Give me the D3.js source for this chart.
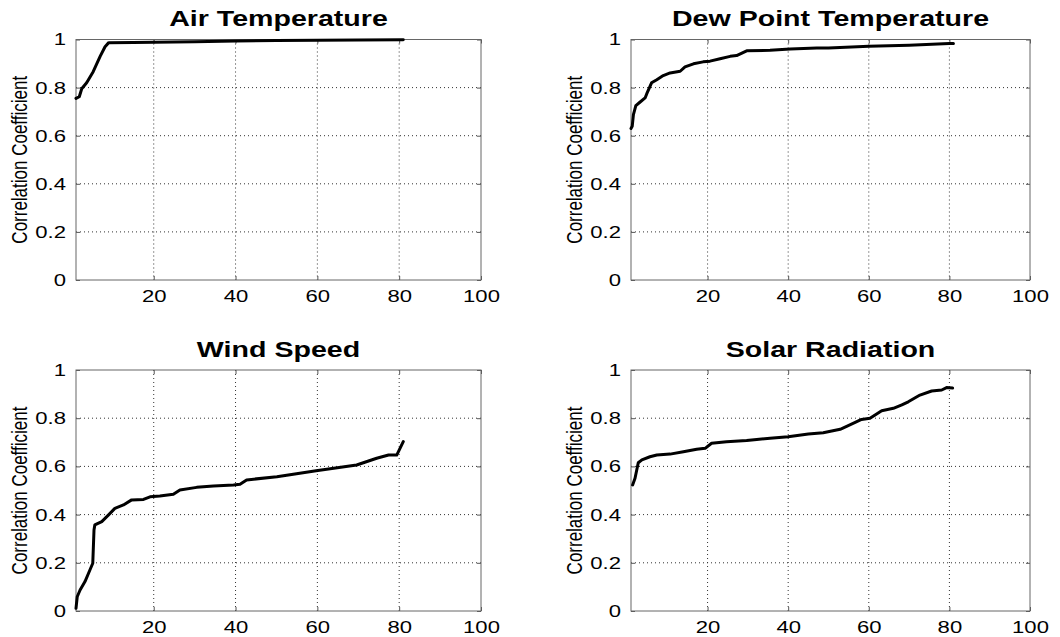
<!DOCTYPE html>
<html>
<head>
<meta charset="utf-8">
<script src="https://cdn.jsdelivr.net/npm/d3@7"></script>
<style>
  body { margin: 0; background: #fff; }
  text { font-family: "Liberation Sans", Arial, sans-serif; fill: #000; }
</style>
</head>
<body>
<svg id="chart" width="1060" height="637"></svg>
<script>
// tick values shared by all panels
const xTicks = [20, 40, 60, 80, 100];
const yTicks = [0, 0.2, 0.4, 0.6, 0.8, 1];
const titles = ["Air Temperature", "Dew Point Temperature", "Wind Speed", "Solar Radiation"];

// curves (x = rank, y = correlation coefficient)
const airX = [1, 1.8, 2.4, 3.6, 5.2, 6.9, 8.1, 9, 15, 20, 30, 40, 50, 60, 70, 81];
const airY = [0.755, 0.762, 0.795, 0.82, 0.866, 0.93, 0.97, 0.987, 0.988, 0.989, 0.991, 0.994, 0.996, 0.997, 0.998, 0.999];

const dewX = [1, 1.3, 1.6, 2.2, 3.2, 4.5, 5, 6.1, 7.4, 9, 10.7, 13.2, 14.4, 16.5, 18.9, 20.6, 23.1, 25.6, 27.2, 29.7, 35.5, 40.5, 47.1, 50, 60, 70, 80, 81];
const dewY = [0.63, 0.639, 0.688, 0.725, 0.739, 0.757, 0.778, 0.82, 0.833, 0.85, 0.861, 0.868, 0.886, 0.899, 0.907, 0.91, 0.92, 0.93, 0.933, 0.953, 0.955, 0.961, 0.965, 0.965, 0.972, 0.976, 0.983, 0.983];

const windX = [1, 1.3, 2, 3.2, 4.4, 5.1, 5.4, 5.6, 7.3, 8.9, 10.5, 12.6, 14.6, 17.5, 19.1, 21.5, 24.8, 26.4, 30.5, 34.6, 39.5, 41.1, 42.7, 50.1, 59.7, 69.6, 74.5, 77.4, 79.4, 81];
const windY = [0.011, 0.059, 0.087, 0.122, 0.17, 0.198, 0.336, 0.357, 0.371, 0.398, 0.426, 0.44, 0.461, 0.463, 0.474, 0.477, 0.484, 0.502, 0.513, 0.519, 0.523, 0.526, 0.544, 0.557, 0.582, 0.606, 0.634, 0.647, 0.647, 0.703];

const solarX = [1.4, 2, 2.8, 3.7, 5.7, 7.4, 10.7, 14, 17.3, 19.4, 21, 24.7, 29.7, 32.2, 35.5, 40, 45, 48.7, 52.9, 55.3, 58.2, 60.3, 63.2, 66.1, 68.2, 69.8, 72.7, 75.6, 78.1, 79.3, 80.8];
const solarY = [0.523, 0.551, 0.615, 0.627, 0.64, 0.647, 0.651, 0.661, 0.671, 0.675, 0.696, 0.702, 0.707, 0.712, 0.717, 0.723, 0.734, 0.74, 0.754, 0.772, 0.795, 0.8, 0.831, 0.841, 0.855, 0.868, 0.896, 0.913, 0.917, 0.927, 0.925];

const series = [[airX, airY], [dewX, dewY], [windX, windY], [solarX, solarY]];

// panel boxes (layout only)
const panels = [
  { left: 76, right: 481, top: 39.5, bottom: 280 },
  { left: 631, right: 1030, top: 39.5, bottom: 280 },
  { left: 76, right: 481, top: 370, bottom: 611 },
  { left: 631, right: 1030, top: 370, bottom: 611 }
];

const svg = d3.select("#chart");
const stretch = 1.3; // the original figure is widened, text too

panels.forEach((p, i) => {
  const x = d3.scaleLinear().domain([1, 100]).range([p.left, p.right]);
  const y = d3.scaleLinear().domain([0, 1]).range([p.bottom, p.top]);
  const g = svg.append("g");

  // dotted grid
  g.selectAll(".gx").data(xTicks.filter(t => t < 100)).join("line")
    .attr("x1", d => x(d)).attr("x2", d => x(d))
    .attr("y1", p.top).attr("y2", p.bottom)
    .attr("stroke", "#333").attr("stroke-width", 1).attr("stroke-dasharray", "1,3");
  g.selectAll(".gy").data(yTicks.filter(t => t > 0 && t < 1)).join("line")
    .attr("x1", p.left).attr("x2", p.right)
    .attr("y1", d => y(d)).attr("y2", d => y(d))
    .attr("stroke", "#333").attr("stroke-width", 1).attr("stroke-dasharray", "1,3");

  // axes with inner ticks
  g.append("g").attr("transform", `translate(0,${p.bottom})`)
    .call(d3.axisBottom(x).tickValues(xTicks).tickSize(-4).tickPadding(10).tickFormat(d3.format("d")))
    .call(a => a.select(".domain").remove())
    .call(a => a.selectAll("line").attr("stroke", "#555"))
    .call(a => a.selectAll("text")
      .attr("font-size", 17).attr("dy", "0.71em")
      .attr("transform", function () { return `translate(${d3.select(this.parentNode).attr("transform") ? 0 : 0},0)`; }));
  g.append("g").attr("transform", `translate(0,${p.top})`)
    .call(d3.axisTop(x).tickValues(xTicks).tickSize(-4).tickFormat(""))
    .call(a => a.select(".domain").remove())
    .call(a => a.selectAll("line").attr("stroke", "#555"));
  g.append("g").attr("transform", `translate(${p.left},0)`)
    .call(d3.axisLeft(y).tickValues(yTicks).tickSize(-4).tickPadding(10).tickFormat(d3.format("")))
    .call(a => a.select(".domain").remove())
    .call(a => a.selectAll("line").attr("stroke", "#555"))
    .call(a => a.selectAll("text").attr("font-size", 17));
  g.append("g").attr("transform", `translate(${p.right},0)`)
    .call(d3.axisRight(y).tickValues(yTicks).tickSize(-4).tickFormat(""))
    .call(a => a.select(".domain").remove())
    .call(a => a.selectAll("line").attr("stroke", "#555"));

  // widen tick labels horizontally like the original
  g.selectAll(".tick text").each(function () {
    const t = d3.select(this);
    const tx = +t.attr("x") || 0;
    t.attr("x", tx / stretch).attr("transform", `scale(${stretch},1)`);
  });
  g.selectAll(".tick text").attr("fill", "#000").attr("font-family", "Liberation Sans, Arial, sans-serif");

  g.append("rect")
    .attr("x", p.left).attr("y", p.top)
    .attr("width", p.right - p.left).attr("height", p.bottom - p.top)
    .attr("fill", "none").attr("stroke", "#666").attr("stroke-width", 1);

  const [xs, ys] = series[i];
  const line = d3.line().x(d => x(d[0])).y(d => y(d[1]));
  g.append("path")
    .datum(xs.map((v, k) => [v, ys[k]]))
    .attr("d", line)
    .attr("fill", "none").attr("stroke", "#000")
    .attr("stroke-width", 3).attr("stroke-linejoin", "round").attr("stroke-linecap", "round");

  // title
  g.append("text")
    .attr("transform", `translate(${(p.left + p.right) / 2},${p.top - 13.5}) scale(${stretch},1)`)
    .attr("text-anchor", "middle").attr("font-size", 22).attr("font-weight", "bold")
    .text(titles[i]);

  // y label
  g.append("text")
    .attr("transform", `translate(${p.left - 49},${(p.top + p.bottom) / 2}) scale(${stretch},1) rotate(-90)`)
    .attr("text-anchor", "middle").attr("font-size", 17)
    .text("Correlation Coefficient");
});
</script>
</body>
</html>
